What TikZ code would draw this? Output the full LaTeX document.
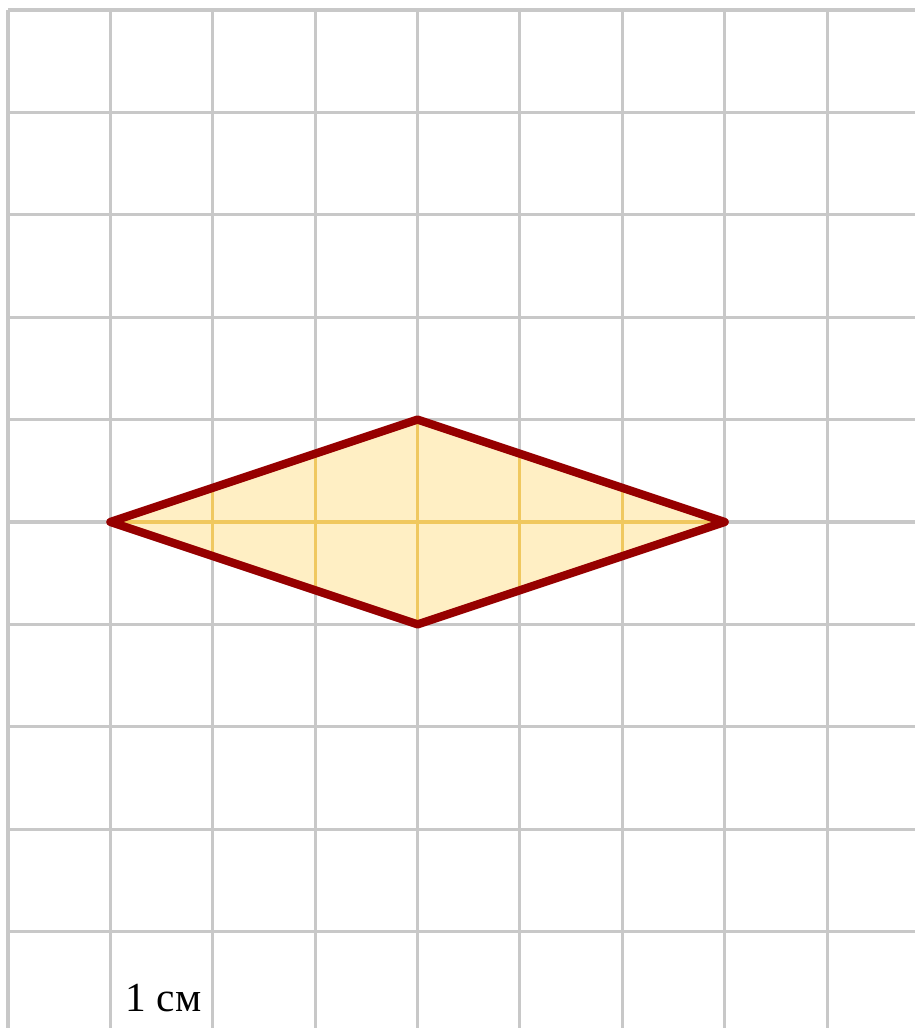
\documentclass[tikz,border=0pt]{standalone}
\usepackage{fontspec}
\setmainfont{Liberation Serif}
\definecolor{gridgray}{RGB}{200,200,200}
\definecolor{rhombred}{RGB}{150,0,0}
\definecolor{rhombfill}{RGB}{255,239,196}
\definecolor{gridyellow}{RGB}{240,200,95}
\begin{document}
\begin{tikzpicture}[x=1cm,y=1cm]
    \tikzstyle{g} = [gridgray, line width=0.85pt];
    \tikzstyle{gy} = [gridyellow, line width=0.85pt];
    \tikzstyle{rh} = [rhombred, line width=2.3pt, line join=round];

    \useasboundingbox (0,0) rectangle (8.936,10.04);
    \fill[white] (0,0) rectangle (8.936,10.04);

    % squared paper
    \foreach \i in {0,...,8}
        \draw[g] (0.078+\i,9.942) -- (0.078+\i,0);
    \foreach \j in {0,...,9}
        \draw[g] (0.078,9.942-\j) -- (8.936,9.942-\j);

    % corners of the rhombus
    \coordinate (L) at (1.078,4.942);
    \coordinate (T) at (4.078,5.942);
    \coordinate (R) at (7.078,4.942);
    \coordinate (B) at (4.078,3.942);

    \fill[rhombfill] (L) -- (T) -- (R) -- (B) -- cycle;
    \begin{scope}
        \clip (L) -- (T) -- (R) -- (B) -- cycle;
        \foreach \i in {1,...,7}
            \draw[gy] (0.078+\i,3.942) -- (0.078+\i,5.942);
        \draw[gy] (1.078,4.942) -- (7.078,4.942);
    \end{scope}
    \draw[rh] (L) -- (T) -- (R) -- (B) -- cycle;

    \node[anchor=base west, inner sep=0pt, font=\fontsize{11.5}{14}\selectfont]
        (unit) at (1.22,0.157) {1 см};
\end{tikzpicture}
\end{document}
